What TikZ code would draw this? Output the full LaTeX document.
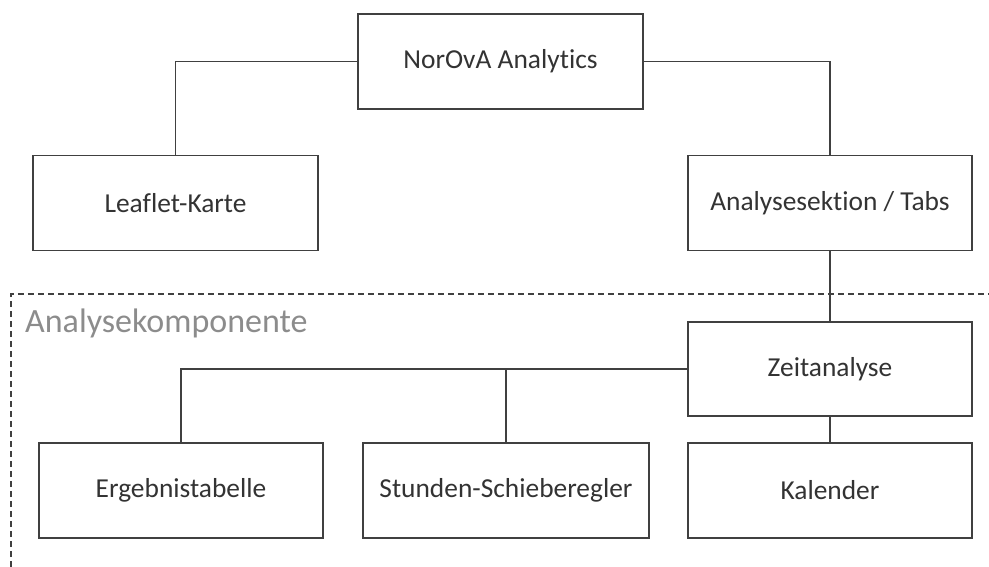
\documentclass[tikz,border=0pt]{standalone}
\usepackage{fontspec}
\setmainfont{Carlito}[Ligatures={NoCommon}]
\definecolor{edge}{HTML}{404040}
\definecolor{ink}{HTML}{333333}
\definecolor{muted}{HTML}{8C8C8C}
\tikzset{
  box/.style={draw=edge, line width=1.2pt, fill=white, text=ink, inner sep=0pt,
    font=\fontsize{27.4}{33}\selectfont},
  link/.style={draw=edge, line width=1.2pt},
  group/.style={draw=edge, line width=1.2pt, dash pattern=on 6pt off 4pt},
}
\begin{document}
\begin{tikzpicture}[x=1pt, y=-1pt]
\useasboundingbox (0,0) rectangle (989,567);

% dashed frame of the analysis component group
\coordinate (gbl) at (11,567);
\coordinate (gtl) at (11,294);
\coordinate (gtr) at (989,294);
\draw[group] (gbl) -- (gtl) -- (gtr);
\node[anchor=base west, text=muted, inner sep=0pt,
      font=\fontsize{34}{40}\selectfont] (glabel) at (25,332) {Analysekomponente};

% boxes
\node[box, minimum width=285pt, minimum height=95pt] (root) at (500.5,61.5) {NorOvA Analytics};
\node[box, minimum width=285pt, minimum height=95pt] (map) at (175.5,203) {Leaflet-Karte};
\node[box, minimum width=284pt, minimum height=95pt] (tabs) at (830,203) {Analysesektion / Tabs};
\node[box, minimum width=284pt, minimum height=94pt] (time) at (830,369) {Zeitanalyse};
\node[box, minimum width=284pt, minimum height=95pt] (table) at (181,490.5) {Ergebnistabelle};
\node[box, minimum width=286pt, minimum height=95pt] (slider) at (506,490.5) {Stunden-Schieberegler};
\node[box, minimum width=284pt, minimum height=95pt] (cal) at (830,490.5) {Kalender};

% connectors
\draw[link] (root.west) -| (map.north);
\draw[link] (root.east) -| (tabs.north);
\draw[link] (tabs.south) -- (time.north);
\draw[link] (time.west) -| (table.north);
\coordinate (branch) at (slider.north |- time.west);
\draw[link] (branch) -- (slider.north);
\draw[link] (time.south) -- (cal.north);
\end{tikzpicture}
\end{document}
